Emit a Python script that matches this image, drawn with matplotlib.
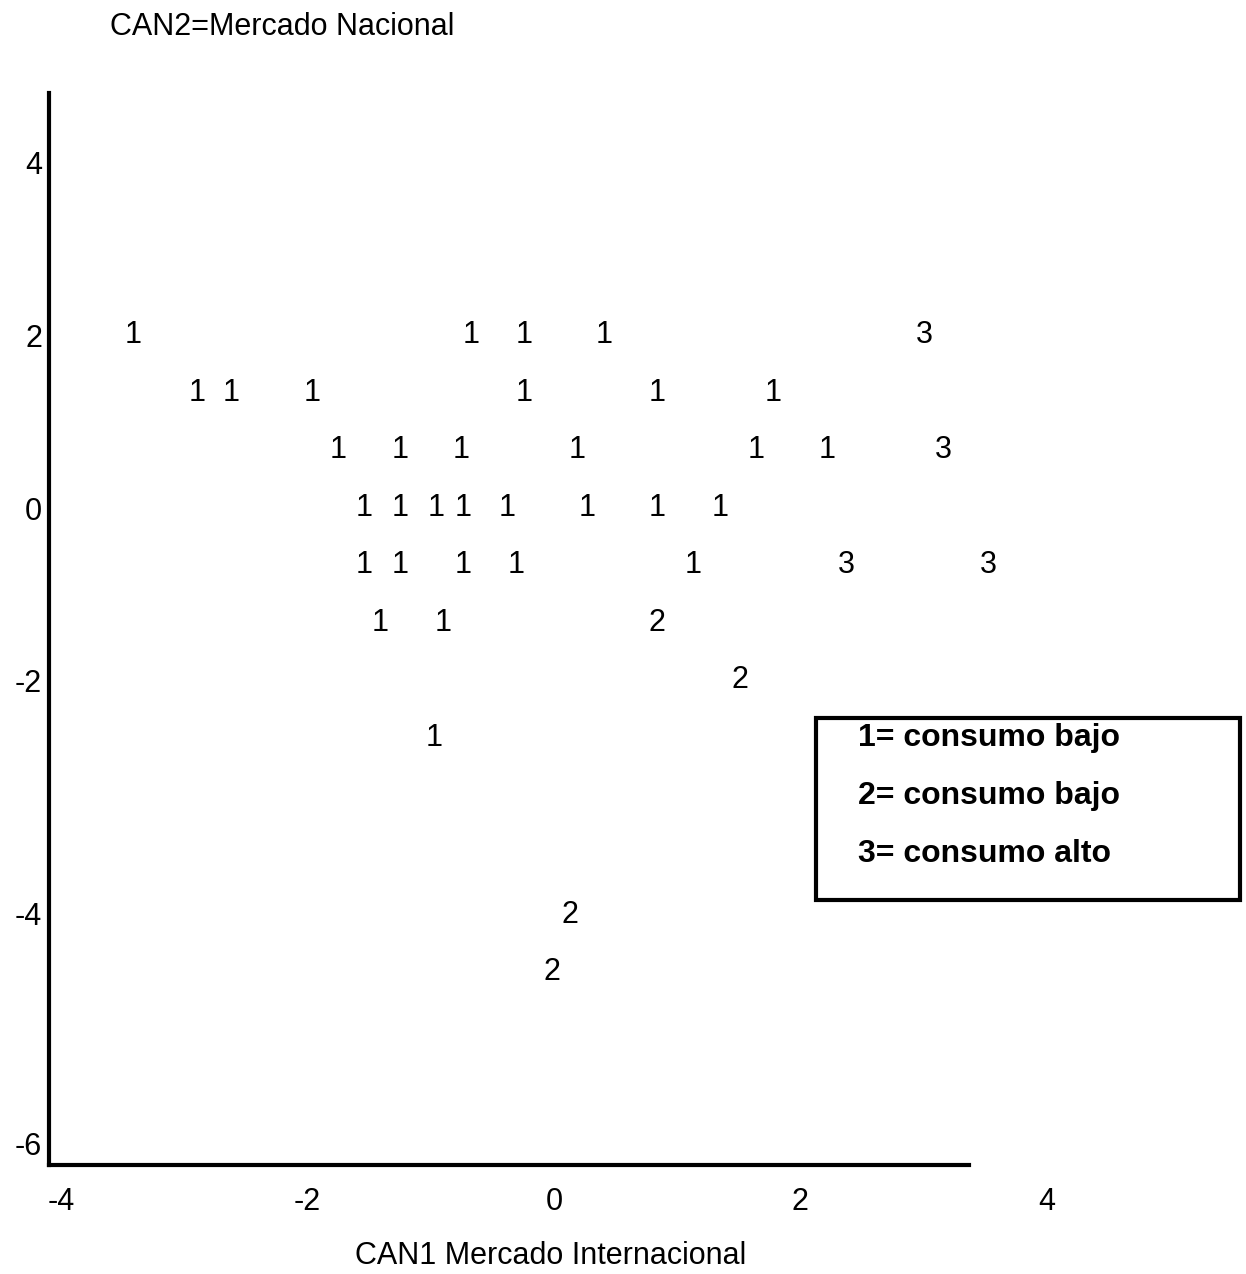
import numpy as np
import matplotlib
matplotlib.use("Agg")
import matplotlib.pyplot as plt
from matplotlib.patches import Rectangle

plt.rcParams["font.family"] = ["Liberation Sans", "DejaVu Sans"]

# puntos del análisis discriminante (CAN1, CAN2) y grupo de consumo
can1 = [-3.42, -0.67, -0.24, 0.41, 3.01,
        -2.90, -2.62, -1.96, -0.24, 0.84, 1.78,
        -1.75, -1.25, -0.75, 0.19, 1.64, 2.22, 3.16,
        -1.54, -1.25, -0.96, -0.74, -0.38, 0.27, 0.84, 1.35,
        -1.54, -1.25, -0.74, -0.31, 1.13, 2.37, 3.53,
        -1.41, -0.90, 0.84,
        1.51,
        -0.97,
        0.13,
        -0.02]
can2 = [2.0, 2.0, 2.0, 2.0, 2.0,
        1.33, 1.33, 1.33, 1.33, 1.33, 1.33,
        0.67, 0.67, 0.67, 0.67, 0.67, 0.67, 0.67,
        0.0, 0.0, 0.0, 0.0, 0.0, 0.0, 0.0, 0.0,
        -0.66, -0.66, -0.66, -0.66, -0.66, -0.66, -0.66,
        -1.33, -1.33, -1.33,
        -2.0,
        -2.5,
        -4.02,
        -4.51]
grupo = ["1", "1", "1", "1", "3",
         "1", "1", "1", "1", "1", "1",
         "1", "1", "1", "1", "1", "1", "3",
         "1", "1", "1", "1", "1", "1", "1", "1",
         "1", "1", "1", "1", "1", "3", "3",
         "1", "1", "2",
         "2",
         "1",
         "2",
         "2"]

leyenda = ["1= consumo bajo", "2= consumo bajo", "3= consumo alto"]
xticks = [-4, -2, 0, 2, 4]
yticks = [-6, -4, -2, 0, 2, 4]

# el eje vertical del original no es lineal: posiciones de sus marcas
_ys = [-100, -6, -4, -2, 0, 2, 4, 100]
_px = [-(1143 + 94 * 115), -1143, -913, -680, -508, -335, -162, 96 * 86.5 - 162]


def fwd(y):
    return np.interp(y, _ys, _px)


def inv(p):
    return np.interp(p, _px, _ys)


W, H = 1246, 1274
fig = plt.figure(figsize=(W / 100, H / 100), dpi=100)
ax = fig.add_axes([49 / W, 1 - 1165 / H, (1240 - 49) / W, (1165 - 93) / H])
ax.set_yscale("function", functions=(fwd, inv))
ax.set_xlim(-4.10, 5.57)
ax.set_ylim(-6.19, 4.80)

for x, y, g in zip(can1, can2, grupo):
    ax.text(x, y, g, ha="center", va="center", fontsize=22)

ax.spines["top"].set_visible(False)
ax.spines["right"].set_visible(False)
for s in ("left", "bottom"):
    ax.spines[s].set_linewidth(3)
ax.spines["bottom"].set_bounds(-4.10, 3.37)

ax.set_xticks(xticks)
ax.set_xticklabels([str(t) for t in xticks])
ax.set_yticks(yticks)
ax.set_yticklabels([str(t) for t in yticks])
ax.tick_params(axis="both", length=0, labelsize=22)
ax.tick_params(axis="x", pad=16)
ax.tick_params(axis="y", pad=5)
ax.minorticks_off()

fig.text(110 / W, 1 - 27 / H, "CAN2=Mercado Nacional", fontsize=22,
         ha="left", va="center")
fig.text(551 / W, 1 - 1256 / H, "CAN1 Mercado Internacional", fontsize=22,
         ha="center", va="center")

# recuadro de leyenda
fig.patches.append(Rectangle((816 / W, 1 - 900 / H), (1240 - 816) / W,
                             (900 - 718) / H, transform=fig.transFigure,
                             fill=False, lw=3, ec="black"))
for i, txt in enumerate(leyenda):
    fig.text(858 / W, 1 - (738 + 58 * i) / H, txt, fontsize=23,
             fontweight="bold", ha="left", va="center")

fig.savefig("out.png", dpi=100)
